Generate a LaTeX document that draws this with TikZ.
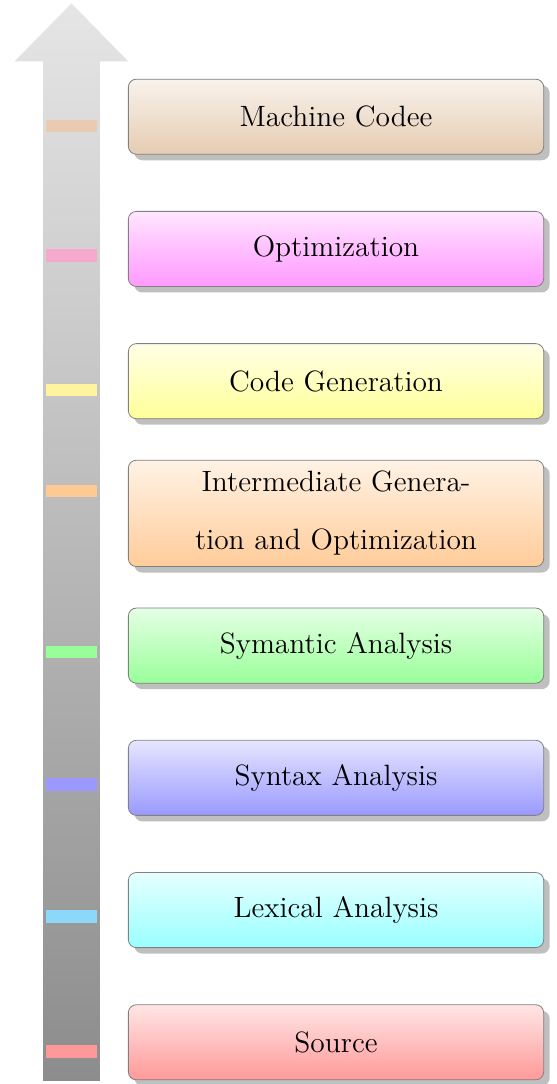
\documentclass[tikz,border=0pt]{standalone}
\usepackage{tikz}
\usetikzlibrary{shadows}

% colours of the small marks on the arrow
\definecolor{marksrc}{HTML}{FF9999}
\definecolor{marklex}{HTML}{8CD8F8}
\definecolor{marksyn}{HTML}{9999FF}
\definecolor{marksym}{HTML}{99FF99}
\definecolor{markint}{HTML}{FFC993}
\definecolor{markcode}{HTML}{FFF3A0}
\definecolor{markopt}{HTML}{F5A9CC}
\definecolor{markmc}{HTML}{E8CBB0}

\begin{document}
\begin{tikzpicture}[
    stage/.style={draw=gray, rounded corners, minimum width=7.3cm, minimum height=1.32cm,
        text width=5.2cm, align=center, inner ysep=5.5pt,
        font=\fontsize{14.7pt}{29pt}\selectfont,
        drop shadow={shadow xshift=3pt, shadow yshift=-3pt}},
    tick/.style={minimum width=0.9cm, minimum height=0.22cm, inner sep=0pt}
]
    \useasboundingbox (-1.256,-0.053) rectangle (8.532,19.0);

    % Mũi tên lớn
    \shade[top color=gray!20, bottom color=gray!90] (-0.5,0) -- (-0.5,17.92) -- (-1,17.92)
        -- (0,18.94) -- (1,17.92) -- (0.5,17.92) -- (0.5,0) -- cycle;

    % Các bước
    \foreach \i/\col/\mk/\txt in {0/red/marksrc/Source, 1/cyan/marklex/Lexical Analysis,
        2/blue/marksyn/Syntax Analysis, 3/green/marksym/Symantic Analysis,
        4/orange/markint/Intermediate Genera\-tion and Optimization,
        5/yellow/markcode/Code Generation, 6/magenta/markopt/Optimization,
        7/brown/markmc/Machine Codee}
    {
        \node[stage, top color=\col!10, bottom color=\col!40] (stage\i) at (4.65, 0.68+2.324*\i) {\txt};
        \node[tick, fill=\mk, yshift=0.5pt] (tick\i) at (0,0 |- stage\i.base) {};
    }
\end{tikzpicture}
\end{document}
